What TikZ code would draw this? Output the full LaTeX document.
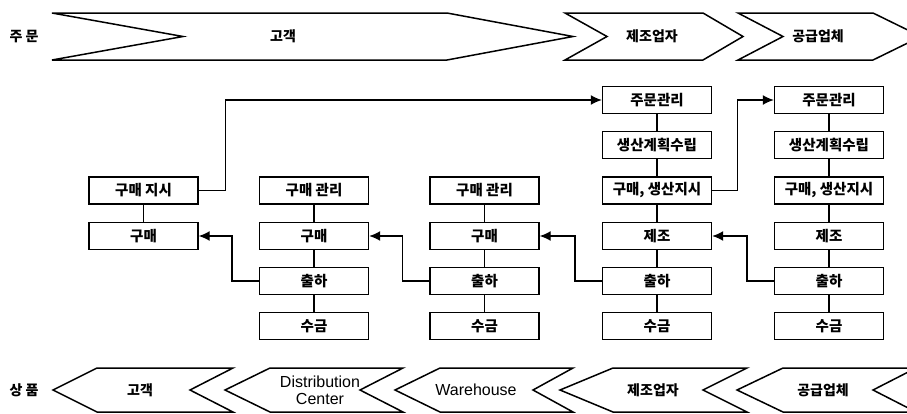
\documentclass[tikz,border=0pt]{standalone}
\usepackage{fontspec}
\setmainfont{Liberation Sans}
\newfontfamily\kr{Noto Sans CJK KR}
\usetikzlibrary{arrows.meta}

\begin{document}
\begin{tikzpicture}[x=1pt, y=-1pt, line width=1.4pt,
  box/.style={draw, minimum width=109pt, minimum height=27pt, inner sep=1pt,
    font=\kr\bfseries\fontsize{14.5}{16}\selectfont},
  band/.style={draw, line width=1.5pt, fill=white},
  krlbl/.style={font=\kr\bfseries\fontsize{14}{16}\selectfont},
  enlbl/.style={font=\fontsize{16}{17}\selectfont, align=center},
  flow/.style={-{Latex[length=11pt,width=10pt]}}]
  \useasboundingbox (0,0) rectangle (907,413);
  \clip (0,0) rectangle (907,413);
  % Order flow band (pointing right)
  \draw[band] (52,13) -- (447,13) -- (573,36.5) -- (447,60) -- (52,60) -- (183,36.5) -- cycle;
  \draw[band] (565,13) -- (703,13) -- (743,36.5) -- (703,60) -- (565,60) -- (607,36.5) -- cycle;
  \draw[band] (738,13) -- (873,13) -- (921,36.5) -- (873,60) -- (738,60) -- (783,36.5) -- cycle;
  \node[krlbl] (ordlbl) at (24,36.5) {주 문};
  \node[krlbl] (ord1) at (283,36.5) {고객};
  \node[krlbl] (ord2) at (652,36.5) {제조업자};
  \node[krlbl] (ord3) at (818,36.5) {공급업체};
  % Goods flow band (pointing left)
  \draw[band] (53,390) -- (97,368) -- (233,368) -- (190,390) -- (233,412) -- (97,412) -- cycle;
  \draw[band] (225,390) -- (270,368) -- (403,368) -- (360,390) -- (403,412) -- (270,412) -- cycle;
  \draw[band] (395,390) -- (440,368) -- (573,368) -- (533,390) -- (573,412) -- (440,412) -- cycle;
  \draw[band] (560,390) -- (613,368) -- (747,368) -- (703,390) -- (747,412) -- (613,412) -- cycle;
  \draw[band] (737,390) -- (783,368) -- (916,368) -- (873,390) -- (916,412) -- (783,412) -- cycle;
  \node[krlbl] (goodlbl) at (24,390) {상 품};
  \node[krlbl] (good1) at (140,390) {고객};
  \node[enlbl] (good2) at (320,390) {Distribution\\Center};
  \node[enlbl] (good3) at (476,390) {Warehouse};
  \node[krlbl] (good4) at (653,390) {제조업자};
  \node[krlbl] (good5) at (823,390) {공급업체};
  % Customer
  \node[box] (a3) at (143.5,190.5) {구매 지시};
  \node[box] (a4) at (143.5,236) {구매};
  % Distribution center, warehouse
  \foreach \col/\x in {b/314, c/484.5} {
    \node[box] (\col3) at (\x,190.5) {구매 관리};
    \node[box] (\col4) at (\x,236) {구매};
    \node[box] (\col5) at (\x,281) {출하};
    \node[box] (\col6) at (\x,326) {수금};
  }
  % Manufacturer, supplier
  \foreach \col/\x in {d/657, e/829} {
    \node[box] (\col1) at (\x,100) {주문관리};
    \node[box] (\col2) at (\x,145) {생산계획수립};
    \node[box] (\col3) at (\x,190.5) {구매, 생산지시};
    \node[box] (\col4) at (\x,236) {제조};
    \node[box] (\col5) at (\x,281) {출하};
    \node[box] (\col6) at (\x,326) {수금};
  }
  % Links inside each column
  \draw (a3) -- (a4);
  \foreach \col in {b,c}
    \foreach \i/\j in {3/4,4/5,5/6}
      \draw (\col\i) -- (\col\j);
  \foreach \col in {d,e}
    \foreach \i/\j in {1/2,2/3,3/4,4/5,5/6}
      \draw (\col\i) -- (\col\j);
  % Shipping to the next stage
  \foreach \src/\dst in {b5/a4, c5/b4, d5/c4, e5/d4}
    \draw[flow] (\src.west) -- ++(-27,0) |- (\dst.east);
  % Orders upstream
  \draw[flow] (a3.east) -- ++(27,0) |- (d1.west);
  \draw[flow] (d3.east) -- ++(25,0) |- (e1.west);
\end{tikzpicture}
\end{document}
